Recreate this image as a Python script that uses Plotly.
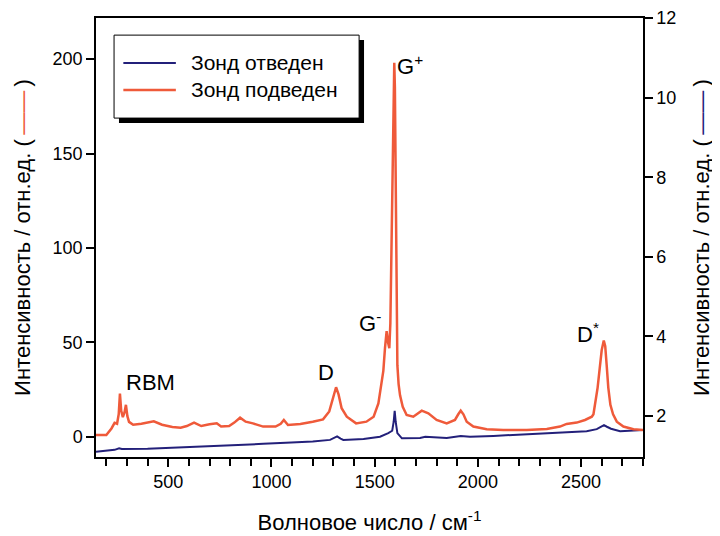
import plotly.graph_objects as go

# ---- data ----
# Orange trace: "Зонд подведен" (left axis)
wn_on = [150, 200, 225, 240, 252, 260, 266, 272, 280, 288, 295, 302, 310, 330, 370, 400, 430, 470,
         520, 560, 590, 625, 660, 700, 735, 756, 795, 820, 848, 875, 910, 960, 1020, 1045, 1060, 1080,
         1140, 1200, 1250, 1280, 1300, 1313, 1325, 1340, 1365, 1410, 1460, 1495, 1518, 1534, 1542,
         1550, 1558, 1565, 1571, 1576, 1581, 1585, 1589, 1592, 1595, 1598, 1602, 1606, 1610, 1616,
         1623, 1636, 1655, 1687, 1710, 1728, 1760, 1800, 1849, 1889, 1905, 1917, 1930, 1946, 1978,
         2043, 2123, 2237, 2334, 2398, 2430, 2479, 2519, 2552, 2560, 2570, 2580, 2590, 2600, 2610,
         2617, 2624, 2632, 2642, 2655, 2673, 2705, 2754, 2800]
int_on = [1.0, 1.0, 4.5, 7.5, 7.0, 12, 23, 14, 10.5, 13, 17, 11, 8, 6.5, 7.0, 7.5, 8.3, 6.5,
          5.3, 4.9, 5.8, 7.6, 5.8, 6.7, 7.2, 5.5, 5.8, 7.6, 10.2, 8.1, 7.2, 5.5, 5.5, 7.0, 9.0, 6.3,
          6.9, 8.1, 9.3, 13.5, 22, 26.3, 22.5, 15.2, 10.7, 7.2, 8.1, 10.7, 17.8, 28, 35,
          47, 56, 50, 47, 60, 95, 132, 170, 190, 198, 185, 132, 70, 38, 28,
          22, 16, 11.6, 10.7, 12.5, 13.9, 12.5, 9.0, 7.2, 9.0, 12, 13.9, 12, 8.1, 5.5,
          4.1, 3.7, 3.7, 4.2, 5.5, 6.9, 7.6, 9.0, 10.7, 12, 18, 26, 36, 46, 51,
          48, 38, 26, 17, 12, 8.1, 5.5, 4.1, 3.7]

# Navy trace: "Зонд отведен" (right axis)
wn_off = [150, 240, 262, 275, 400, 500, 650, 800, 960, 1070, 1200, 1284, 1300, 1318, 1335, 1348,
          1446, 1526, 1566, 1585, 1592, 1597, 1602, 1610, 1632, 1720, 1745, 1849, 1917, 1962, 2075,
          2237, 2398, 2527, 2576, 2600, 2611, 2625, 2645, 2689, 2800]
int_off = [1.10, 1.15, 1.19, 1.17, 1.18, 1.20, 1.23, 1.25, 1.30, 1.33, 1.36, 1.40, 1.44, 1.49, 1.43, 1.40,
           1.42, 1.48, 1.57, 1.63, 1.85, 2.13, 1.85, 1.57, 1.44, 1.45, 1.48, 1.45, 1.50, 1.48, 1.50,
           1.54, 1.58, 1.62, 1.67, 1.74, 1.77, 1.73, 1.68, 1.62, 1.65]

series_names = ["Зонд отведен", "Зонд подведен"]
x_ticks = [500, 1000, 1500, 2000, 2500]
left_ticks = [0, 50, 100, 150, 200]
right_ticks = [2, 4, 6, 8, 10, 12]

peak_labels = ["RBM", "D", "G<sup>-</sup>", "G<sup>+</sup>", "D<sup>*</sup>"]
peak_x = [412, 1264, 1478, 1671, 2534]
peak_y = [29, 34, 61, 197, 55]

ORANGE = "#EF5A3A"
NAVY = "#23207A"
FONT = "Liberation Sans, Arial, sans-serif"

fig = go.Figure()
fig.add_trace(go.Scatter(x=wn_off, y=int_off, mode="lines", name=series_names[0],
                         line=dict(color=NAVY, width=2), yaxis="y", showlegend=False))
fig.add_trace(go.Scatter(x=wn_on, y=int_on, mode="lines", name=series_names[1],
                         line=dict(color=ORANGE, width=2.5), yaxis="y2", showlegend=False))

for t, xx, yy in zip(peak_labels, peak_x, peak_y):
    fig.add_annotation(x=xx, y=yy, xref="x", yref="y2", text=t, showarrow=False,
                       font=dict(size=22, color="black", family=FONT))

# legend box (drawn manually with shadow)
shapes = [
    dict(type="rect", xref="paper", yref="paper", x0=0.042, x1=0.490, y0=0.761, y1=0.950,
         fillcolor="black", line=dict(width=0), layer="above"),
    dict(type="rect", xref="paper", yref="paper", x0=0.033, x1=0.481, y0=0.772, y1=0.961,
         fillcolor="white", line=dict(color="black", width=1), layer="above"),
    dict(type="line", xref="paper", yref="paper", x0=0.050, x1=0.146, y0=0.8975, y1=0.8975,
         line=dict(color=NAVY, width=2), layer="above"),
    dict(type="line", xref="paper", yref="paper", x0=0.050, x1=0.146, y0=0.836, y1=0.836,
         line=dict(color=ORANGE, width=2.5), layer="above"),
]
for name, yy in zip(series_names, [0.8975, 0.836]):
    fig.add_annotation(x=0.170, y=yy, xref="paper", yref="paper", text=name, showarrow=False,
                       xanchor="left", yanchor="middle", font=dict(size=21, color="black", family=FONT))

axis_common = dict(showline=True, linecolor="black", linewidth=1.5, ticks="outside", ticklen=8,
                   tickwidth=1.5, tickcolor="black", showgrid=False, zeroline=False, automargin=False,
                   tickfont=dict(size=18, color="black", family=FONT))

ytitle = "Интенсивность / отн.ед. (\u2009<span style='color:%s'>\u2014\u2014</span>\u2009)"

# the page has an 8px body margin, so the figure is 712x528 to fit the 720x536 window
fig.update_layout(
    width=712, height=528,
    margin=dict(l=88, r=77, t=10, b=79),
    paper_bgcolor="white", plot_bgcolor="white",
    font=dict(family=FONT, color="black"),
    shapes=shapes,
    xaxis=dict(range=[150, 2800], tickvals=x_ticks, mirror=True,
               minor=dict(dtick=100, tick0=0, ticks="outside", ticklen=7, tickwidth=1.5, tickcolor="black"),
               title=dict(text="Волновое число / см<sup>-1</sup>", font=dict(size=22, family=FONT), standoff=23),
               **axis_common),
    yaxis=dict(range=[0.97, 12], tickvals=right_ticks, side="right",
               title=dict(text=ytitle % NAVY, font=dict(size=22, family=FONT), standoff=18),
               **axis_common),
    yaxis2=dict(range=[-10.6, 221.7], tickvals=left_ticks, side="left", overlaying="y",
                title=dict(text=ytitle % ORANGE, font=dict(size=22, family=FONT), standoff=16),
                **axis_common),
)

fig.write_html("out.html")
